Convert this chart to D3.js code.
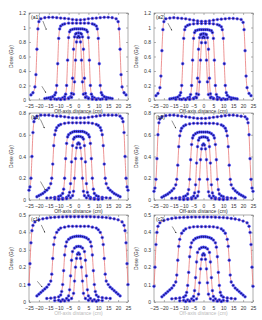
<!DOCTYPE html>
<html>
<head>
<meta charset="utf-8">
<script src="https://d3js.org/d3.v7.min.js"></script>
<style>
  body { margin: 0; background: #fff; }
  text { font-family: "Liberation Sans", Arial, sans-serif; }
</style>
</head>
<body>
<svg id="chart" width="262" height="320"></svg>
<script>
// off-axis positions (cm), one set per depth row and field size
var xA40 = [-24,-23,-22,-21.5,-21,-20.5,-20,-19,-17,-15,-13,-11,-9,-7,-5,-3,-1,1,3,5,7,9,11,13,15,17,19,20,20.5,21,21.5,22,23,24];
var xA20 = [-17,-16,-15,-14,-13,-12,-11.5,-11,-10.5,-10,-9.5,-9,-8,-7,-5,-3,-1,1,3,5,7,8,9,9.5,10,10.5,11,11.5,12,13,14,15,16,17];
var xA10 = [-14,-12,-10,-8,-7,-6.5,-6,-5.5,-5,-4.5,-4,-3,-2,-1,0,1,2,3,4,4.5,5,5.5,6,6.5,7,8,10,12,14];
var xA5  = [-11,-9,-7,-5,-4,-3.5,-3,-2.5,-2,-1.5,-1,0,1,1.5,2,2.5,3,3.5,4,5,7,9,11];
var xA3  = [-9,-7,-5,-3.5,-2.5,-2,-1.5,-1,-0.5,0,0.5,1,1.5,2,2.5,3.5,5,7,9];

var xB40 = [-25,-24.5,-24,-23.5,-23,-22.5,-22,-21,-19,-17,-15,-13,-11,-9,-7,-5,-3,-1,1,3,5,7,9,11,13,15,17,19,21,22,22.5,23,23.5,24,24.5,25];
var xB20 = [-21,-20,-19,-18,-17,-16,-15,-14,-13.5,-13,-12.5,-12,-11.5,-11,-10,-9,-7,-5,-3,-1,1,3,5,7,9,10,11,11.5,12,12.5,13,13.5,14,15,16,17,18,19,20,21];
var xB10 = [-16,-14,-12,-10,-9,-8,-7.5,-7,-6.5,-6,-5.5,-5,-4,-3,-2,-1,0,1,2,3,4,5,5.5,6,6.5,7,7.5,8,9,10,12,14,16];
var xB5  = [-12,-10,-8,-6,-5,-4.5,-4,-3.5,-3,-2.5,-2,-1,0,1,2,2.5,3,3.5,4,4.5,5,6,8,10,12];
var xB3  = [-10,-8,-6,-4,-3,-2.5,-2,-1.5,-1,-0.5,0,0.5,1,1.5,2,2.5,3,4,6,8,10];

var xC40 = [-25,-24.5,-24,-23.5,-23,-22,-20,-18,-16,-14,-12,-10,-8,-6,-4,-2,0,2,4,6,8,10,12,14,16,18,20,22,23,23.5,24,24.5,25];
var xC20 = [-21,-20,-19,-18,-17,-16,-15,-14,-13.5,-13,-12.5,-12,-11,-10,-9,-7,-5,-3,-1,1,3,5,7,9,10,11,12,12.5,13,13.5,14,15,16,17,18,19,20,21];
var xC10 = [-16,-14,-12,-10,-9,-8.5,-8,-7.5,-7,-6.5,-6,-5,-4,-3,-2,-1,0,1,2,3,4,5,6,6.5,7,7.5,8,8.5,9,10,12,14,16];
var xC5  = [-12,-10,-8,-6,-5,-4.5,-4,-3.5,-3,-2,-1,0,1,2,3,3.5,4,4.5,5,6,8,10,12];
var xC3  = [-9,-7,-5,-3.5,-2.5,-2,-1.5,-1,-0.5,0,0.5,1,1.5,2,2.5,3.5,5,7,9];

// dose values (Gy)
var a1_40 = [0.07,0.10,0.18,0.35,0.7,0.98,1.08,1.12,1.135,1.14,1.14,1.135,1.13,1.125,1.12,1.11,1.105,1.105,1.11,1.12,1.125,1.13,1.135,1.14,1.14,1.135,1.12,1.08,0.98,0.7,0.35,0.18,0.10,0.07];
var a1_20 = [0.02,0.025,0.03,0.035,0.045,0.07,0.1,0.2,0.5,0.85,0.98,1.02,1.04,1.05,1.06,1.06,1.06,1.06,1.06,1.06,1.05,1.04,1.02,0.98,0.85,0.5,0.2,0.1,0.07,0.045,0.035,0.03,0.025,0.02];
var a1_10 = [0.012,0.015,0.02,0.03,0.045,0.08,0.2,0.55,0.86,0.94,0.965,0.975,0.98,0.98,0.98,0.98,0.98,0.975,0.965,0.94,0.86,0.55,0.2,0.08,0.045,0.03,0.02,0.015,0.012];
var a1_5  = [0.01,0.012,0.018,0.03,0.045,0.09,0.3,0.7,0.87,0.91,0.92,0.925,0.92,0.91,0.87,0.7,0.3,0.09,0.045,0.03,0.018,0.012,0.01];
var a1_3  = [0.008,0.012,0.02,0.035,0.08,0.25,0.55,0.8,0.865,0.88,0.865,0.8,0.55,0.25,0.08,0.035,0.02,0.012,0.008];

var a2_40 = [0.06,0.09,0.17,0.33,0.68,0.97,1.08,1.12,1.13,1.135,1.13,1.125,1.12,1.11,1.10,1.09,1.085,1.085,1.09,1.10,1.11,1.115,1.12,1.125,1.125,1.12,1.11,1.07,0.97,0.68,0.33,0.17,0.09,0.06];
var a2_20 = [0.015,0.02,0.025,0.03,0.04,0.065,0.1,0.2,0.5,0.85,0.97,1.01,1.03,1.04,1.05,1.055,1.055,1.055,1.055,1.05,1.04,1.03,1.01,0.97,0.85,0.5,0.2,0.1,0.065,0.04,0.03,0.025,0.02,0.015];
var a2_10 = [0.01,0.013,0.018,0.028,0.04,0.075,0.2,0.55,0.85,0.93,0.955,0.965,0.97,0.97,0.97,0.97,0.97,0.965,0.955,0.93,0.85,0.55,0.2,0.075,0.04,0.028,0.018,0.013,0.01];
var a2_5  = [0.008,0.01,0.015,0.025,0.04,0.085,0.3,0.7,0.86,0.9,0.91,0.915,0.91,0.9,0.86,0.7,0.3,0.085,0.04,0.025,0.015,0.01,0.008];
var a2_3  = [0.006,0.01,0.018,0.03,0.075,0.25,0.55,0.79,0.86,0.875,0.86,0.79,0.55,0.25,0.075,0.03,0.018,0.01,0.006];

var b1_40 = [0.09,0.12,0.2,0.4,0.62,0.72,0.75,0.77,0.78,0.78,0.78,0.775,0.77,0.77,0.765,0.76,0.755,0.755,0.755,0.755,0.76,0.765,0.77,0.775,0.78,0.78,0.78,0.78,0.77,0.75,0.72,0.62,0.4,0.2,0.12,0.09];
var b1_20 = [0.03,0.04,0.05,0.06,0.075,0.09,0.11,0.15,0.2,0.33,0.5,0.6,0.64,0.665,0.685,0.695,0.705,0.71,0.71,0.71,0.71,0.71,0.71,0.705,0.695,0.685,0.665,0.64,0.6,0.5,0.33,0.2,0.15,0.11,0.09,0.075,0.06,0.05,0.04,0.03];
var b1_10 = [0.018,0.02,0.025,0.032,0.04,0.06,0.1,0.2,0.38,0.52,0.58,0.6,0.615,0.625,0.63,0.63,0.63,0.63,0.63,0.625,0.615,0.6,0.58,0.52,0.38,0.2,0.1,0.06,0.04,0.032,0.025,0.02,0.018];
var b1_5  = [0.01,0.012,0.016,0.025,0.04,0.07,0.15,0.35,0.5,0.56,0.575,0.583,0.585,0.583,0.575,0.56,0.5,0.35,0.15,0.07,0.04,0.025,0.016,0.012,0.01];
var b1_3  = [0.005,0.008,0.012,0.02,0.04,0.08,0.2,0.38,0.48,0.515,0.525,0.515,0.48,0.38,0.2,0.08,0.04,0.02,0.012,0.008,0.005];

var b2_40 = [0.08,0.11,0.19,0.38,0.6,0.71,0.745,0.765,0.775,0.78,0.78,0.775,0.77,0.765,0.76,0.755,0.75,0.75,0.75,0.755,0.76,0.765,0.77,0.775,0.78,0.78,0.775,0.77,0.765,0.745,0.71,0.6,0.38,0.19,0.11,0.08];
var b2_20 = [0.025,0.035,0.045,0.055,0.07,0.085,0.105,0.14,0.19,0.32,0.49,0.59,0.635,0.66,0.68,0.69,0.7,0.705,0.705,0.705,0.705,0.705,0.705,0.7,0.69,0.68,0.66,0.635,0.59,0.49,0.32,0.19,0.14,0.105,0.085,0.07,0.055,0.045,0.035,0.025];
var b2_10 = [0.015,0.018,0.022,0.03,0.038,0.055,0.095,0.19,0.37,0.51,0.57,0.595,0.61,0.62,0.625,0.625,0.625,0.625,0.625,0.62,0.61,0.595,0.57,0.51,0.37,0.19,0.095,0.055,0.038,0.03,0.022,0.018,0.015];
var b2_5  = [0.008,0.01,0.014,0.022,0.036,0.065,0.14,0.34,0.49,0.55,0.57,0.578,0.58,0.578,0.57,0.55,0.49,0.34,0.14,0.065,0.036,0.022,0.014,0.01,0.008];
var b2_3  = [0.004,0.007,0.01,0.018,0.037,0.075,0.19,0.37,0.47,0.505,0.515,0.505,0.47,0.37,0.19,0.075,0.037,0.018,0.01,0.007,0.004];

var c1_40 = [0.10,0.22,0.34,0.41,0.44,0.46,0.472,0.478,0.482,0.485,0.487,0.488,0.489,0.49,0.49,0.49,0.49,0.49,0.49,0.49,0.489,0.488,0.487,0.485,0.482,0.478,0.472,0.46,0.44,0.41,0.34,0.22,0.10];
var c1_20 = [0.035,0.045,0.055,0.065,0.075,0.085,0.1,0.12,0.16,0.25,0.33,0.37,0.4,0.415,0.425,0.43,0.435,0.435,0.435,0.435,0.435,0.435,0.43,0.425,0.415,0.4,0.37,0.33,0.25,0.16,0.12,0.1,0.085,0.075,0.065,0.055,0.045,0.035];
var c1_10 = [0.02,0.022,0.025,0.03,0.04,0.06,0.1,0.18,0.27,0.32,0.345,0.36,0.368,0.373,0.376,0.378,0.378,0.378,0.376,0.373,0.368,0.36,0.345,0.32,0.27,0.18,0.1,0.06,0.04,0.03,0.025,0.022,0.02];
var c1_5  = [0.008,0.01,0.013,0.02,0.035,0.07,0.15,0.24,0.29,0.31,0.318,0.32,0.318,0.31,0.29,0.24,0.15,0.07,0.035,0.02,0.013,0.01,0.008];
var c1_3  = [0.004,0.006,0.01,0.02,0.05,0.12,0.2,0.25,0.275,0.282,0.275,0.25,0.2,0.12,0.05,0.02,0.01,0.006,0.004];

var c2_40 = [0.09,0.2,0.33,0.4,0.435,0.455,0.468,0.475,0.48,0.483,0.485,0.486,0.487,0.488,0.488,0.488,0.488,0.488,0.488,0.487,0.486,0.485,0.483,0.48,0.477,0.472,0.465,0.455,0.435,0.4,0.33,0.2,0.09];
var c2_20 = [0.03,0.04,0.05,0.06,0.07,0.08,0.095,0.115,0.155,0.24,0.32,0.36,0.395,0.41,0.42,0.428,0.432,0.433,0.433,0.433,0.433,0.432,0.428,0.42,0.41,0.395,0.36,0.32,0.24,0.155,0.115,0.095,0.08,0.07,0.06,0.05,0.04,0.03];
var c2_10 = [0.018,0.02,0.023,0.028,0.037,0.055,0.095,0.17,0.26,0.315,0.34,0.356,0.365,0.37,0.373,0.375,0.375,0.375,0.373,0.37,0.365,0.356,0.34,0.315,0.26,0.17,0.095,0.055,0.037,0.028,0.023,0.02,0.018];
var c2_5  = [0.007,0.009,0.012,0.018,0.032,0.065,0.14,0.23,0.285,0.305,0.313,0.315,0.313,0.305,0.285,0.23,0.14,0.065,0.032,0.018,0.012,0.009,0.007];
var c2_3  = [0.003,0.005,0.009,0.018,0.045,0.11,0.19,0.245,0.27,0.278,0.27,0.245,0.19,0.11,0.045,0.018,0.009,0.005,0.003];

var xTicks = [-25,-20,-15,-10,-5,0,5,10,15,20,25];
var yTicksA = [0,0.2,0.4,0.6,0.8,1,1.2];
var yTicksB = [0,0.2,0.4,0.6,0.8];
var yTicksC = [0,0.1,0.2,0.3,0.4,0.5];
var panelLabels = ["(a1)","(a2)","(b1)","(b2)","(c1)","(c2)"];

// arrows as [x1, y1, x2, y2] in data units
var arrowsA1 = [[-18,1.09,-16.3,0.97],[-18.5,0.19,-16.5,0.1]];
var arrowsA2 = [[-18,1.06,-16,0.96]];
var arrowsB1 = [[-19.2,0.74,-17.2,0.66],[-19.2,0.17,-16.7,0.09]];
var arrowsB2 = [[-16,0.73,-14,0.66]];
var arrowsC1 = [[-18.8,0.443,-17,0.4],[-20.8,0.119,-18.3,0.085]];
var arrowsC2 = [[-15.8,0.434,-13.8,0.396]];

var rowA = [xA40, xA20, xA10, xA5, xA3];
var rowB = [xB40, xB20, xB10, xB5, xB3];
var rowC = [xC40, xC20, xC10, xC5, xC3];

var panels = [
  {label: panelLabels[0], col: 0, row: 0, ymax: 1.2, ticks: yTicksA, xs: rowA, ys: [a1_40,a1_20,a1_10,a1_5,a1_3], arrows: arrowsA1},
  {label: panelLabels[1], col: 1, row: 0, ymax: 1.2, ticks: yTicksA, xs: rowA, ys: [a2_40,a2_20,a2_10,a2_5,a2_3], arrows: arrowsA2},
  {label: panelLabels[2], col: 0, row: 1, ymax: 0.8, ticks: yTicksB, xs: rowB, ys: [b1_40,b1_20,b1_10,b1_5,b1_3], arrows: arrowsB1},
  {label: panelLabels[3], col: 1, row: 1, ymax: 0.8, ticks: yTicksB, xs: rowB, ys: [b2_40,b2_20,b2_10,b2_5,b2_3], arrows: arrowsB2},
  {label: panelLabels[4], col: 0, row: 2, ymax: 0.5, ticks: yTicksC, xs: rowC, ys: [c1_40,c1_20,c1_10,c1_5,c1_3], arrows: arrowsC1},
  {label: panelLabels[5], col: 1, row: 2, ymax: 0.5, ticks: yTicksC, xs: rowC, ys: [c2_40,c2_20,c2_10,c2_5,c2_3], arrows: arrowsC2}
];

var colLeft = [29, 154], rowTop = [13, 113, 215];
var pw = 99, ph = 87;
var fmt = d3.format("~g");

var svg = d3.select("#chart");
svg.append("rect").attr("width", 262).attr("height", 320).attr("fill", "#fff");

svg.append("defs").append("marker")
    .attr("id", "head")
    .attr("viewBox", "0 0 6 6")
    .attr("refX", 5).attr("refY", 3)
    .attr("markerWidth", 3).attr("markerHeight", 3)
    .attr("orient", "auto")
  .append("path")
    .attr("d", "M0,0L6,3L0,6Z")
    .attr("fill", "#222");

panels.forEach(function(p) {
    var g = svg.append("g")
        .attr("transform", "translate(" + colLeft[p.col] + "," + rowTop[p.row] + ")");

    var x = d3.scaleLinear().domain([-25, 25]).range([0, pw]);
    var y = d3.scaleLinear().domain([0, p.ymax]).range([ph, 0]);

    // axes, ticks pointing inward like matlab
    var xb = g.append("g").attr("transform", "translate(0," + ph + ")")
        .call(d3.axisBottom(x).tickValues(xTicks).tickSize(-2).tickPadding(3).tickFormat(fmt));
    var xt = g.append("g")
        .call(d3.axisTop(x).tickValues(xTicks).tickSize(-2).tickFormat(""));
    var yl = g.append("g")
        .call(d3.axisLeft(y).tickValues(p.ticks).tickSize(-2).tickPadding(3).tickFormat(fmt));
    var yr = g.append("g").attr("transform", "translate(" + pw + ",0)")
        .call(d3.axisRight(y).tickValues(p.ticks).tickSize(-2).tickFormat(""));
    [xb, xt, yl, yr].forEach(function(a) {
        a.select(".domain").remove();
        a.selectAll("line").attr("stroke", "#666").attr("stroke-width", 0.5);
        a.selectAll("text").attr("font-size", "5px").attr("fill", "#333");
    });
    // nudge the corner labels apart a little
    xb.selectAll(".tick text").attr("dy", "0.9em");
    yl.selectAll(".tick text").attr("dy", "0.3em");

    g.append("rect")
        .attr("width", pw).attr("height", ph)
        .attr("fill", "none").attr("stroke", "#777").attr("stroke-width", 0.6);

    var line = d3.line()
        .x(function(d) { return x(d[0]); })
        .y(function(d) { return y(d[1]); })
        .curve(d3.curveMonotoneX);

    p.ys.forEach(function(ys, i) {
        var pts = d3.zip(p.xs[i], ys);
        g.append("path")
            .attr("d", line(pts))
            .attr("fill", "none")
            .attr("stroke", "#e87878")
            .attr("stroke-width", 0.8);
        g.selectAll(null).data(pts).enter().append("circle")
            .attr("cx", function(d) { return x(d[0]); })
            .attr("cy", function(d) { return y(d[1]); })
            .attr("r", 1.4)
            .attr("fill", "#2a2acc")
            .attr("stroke", "#5050ff")
            .attr("stroke-width", 0.4);
        g.selectAll(null).data(pts).enter().append("circle")
            .attr("cx", function(d) { return x(d[0]); })
            .attr("cy", function(d) { return y(d[1]); })
            .attr("r", 0.5)
            .attr("fill", "#101040");
    });

    p.arrows.forEach(function(a) {
        g.append("line")
            .attr("x1", x(a[0])).attr("y1", y(a[1]))
            .attr("x2", x(a[2])).attr("y2", y(a[3]))
            .attr("stroke", "#222").attr("stroke-width", 0.5)
            .attr("marker-end", "url(#head)");
    });

    g.append("text")
        .attr("x", 2).attr("y", 6)
        .attr("font-size", "5px").attr("fill", "#222")
        .text(p.label);

    g.append("text")
        .attr("x", pw / 2).attr("y", ph + 13)
        .attr("text-anchor", "middle")
        .attr("font-size", "5px")
        .attr("fill", p.row === 2 ? "#bbb" : "#333")
        .text("Off-axis distance (cm)");

    g.append("text")
        .attr("transform", "translate(-16," + (ph / 2) + ") rotate(-90)")
        .attr("text-anchor", "middle")
        .attr("font-size", "5px").attr("fill", "#333")
        .text("Dose (Gy)");
});
</script>
</body>
</html>
